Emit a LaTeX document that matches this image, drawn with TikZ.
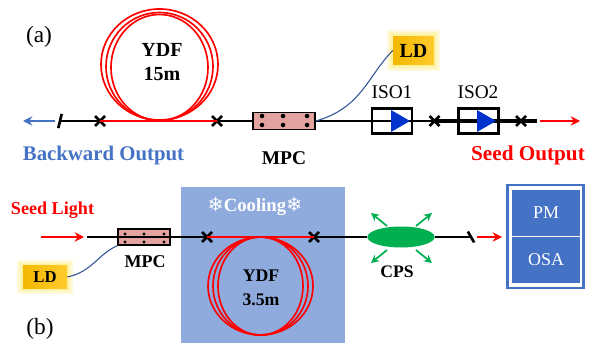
\documentclass[tikz,border=0pt]{standalone}
\usepackage{fontspec}
\setmainfont{Liberation Serif}
\newfontfamily\flakefont{DejaVu Sans}
\usetikzlibrary{arrows.meta, positioning, shapes.misc, shapes.geometric}
\definecolor{outblue}{HTML}{4472C4}
\definecolor{coolblue}{HTML}{8FAADC}
\definecolor{isoblue}{HTML}{0033CC}
\definecolor{mpcpink}{HTML}{E3A3A0}
\definecolor{cpsgreen}{HTML}{00B050}
\definecolor{pumpline}{HTML}{2F5597}
\definecolor{golda}{HTML}{F5B800}
\definecolor{goldb}{HTML}{FFCB2E}

\begin{document}
\begin{tikzpicture}[
    x=0.75pt, y=-0.75pt,
    lab/.style={inner sep=0pt, align=center, font=\fontsize{#1}{#1}\selectfont},
    blab/.style={inner sep=0pt, align=center, font=\fontsize{#1}{18}\selectfont\bfseries},
    fiber/.style={line width=2.2pt, black},
    gain/.style={line width=2.2pt, red},
    coil/.style={line width=1.25pt, red},
    splice/.style={cross out, draw=black, line width=2pt, minimum size=5.5pt, inner sep=0pt},
    cutmark/.style={fill=black, inner sep=0pt, minimum width=2pt, minimum height=#1},
    mpc/.style={draw=black, line width=1.2pt, fill=mpcpink, inner sep=0pt},
    mpcdot/.style={circle, fill=black, inner sep=0pt, minimum size=#1},
    isobox/.style={draw=black, line width=2pt, inner sep=0pt, minimum width=30pt, minimum height=19pt},
    isotri/.style={fill=isoblue},
    ld/.style={inner sep=0pt, left color=golda, right color=goldb},
    glow/.style={draw=yellow!80!orange, opacity=0.14, inner sep=0pt},
    pump/.style={line width=0.8pt, pumpline},
    beam/.style={line width=1.8pt, -{Stealth[length=7pt, width=7pt]}},
    leak/.style={line width=1.3pt, cpsgreen, -{Stealth[length=6pt, width=6pt]}},
    meter/.style={fill=outblue, text=white, inner sep=0pt, minimum width=51pt, minimum height=34.5pt,
                  font=\fontsize{13.5}{14}\selectfont}
  ]
  \useasboundingbox (0,0) rectangle (595,345);

  % (a)
  \node[lab=17.5] (taga) at (39,37) {(a)};
  \foreach \rx/\ry/\cy in {58.5/55.5/64.5, 53.5/54/66.5, 48.5/53/67.5} {
    \draw[coil] (159.5,\cy) ellipse [x radius=\rx, y radius=\ry];
  }
  \node[blab=15] (ydfa) at (162,62) {YDF\\15m};

  \node[cutmark=11pt, rotate=-14] (cuta) at (60,121) {};
  \node[splice] (xa1) at (100,121) {};
  \node[splice] (xa2) at (217,121) {};
  \node[mpc, minimum width=46.5pt, minimum height=12.75pt] (mpca) at (284,121) {};
  \node[isobox] (iso1) at (392,121) {};
  \node[isobox] (iso2) at (478.5,121) {};
  \node[splice] (xa3) at (434.5,121) {};
  \node[splice] (xa4) at (521,121) {};
  \coordinate (enda) at (537,121);

  \draw[fiber] (cuta.center) -- (xa1.center);
  \draw[gain] (xa1.center) -- (xa2.center);
  \draw[fiber] (xa2.center) -- (mpca.west);
  \draw[fiber] (mpca.east) -- (iso1.west) -- (iso1.east) -- (xa3.center);
  \draw[fiber, line width=2.6pt] (xa3.center) -- (iso2.west) -- (iso2.east) -- (xa4.center) -- (enda);
  \foreach \x in {262,283,307} {
    \foreach \y in {116,125} {
      \node[mpcdot=3.4pt] at (\x,\y) {};
    }
  }
  \fill[isotri] (391,110) -- (410,121) -- (391,132) -- cycle;
  \fill[isotri] (477,110) -- (496,121) -- (477,132) -- cycle;
  \node[lab=14.5] (isol1) at (392,92) {ISO1};
  \node[lab=14.5] (isol2) at (478,92) {ISO2};

  \foreach \w in {9,6,3} {
    \node[glow, line width=\w pt, minimum width=30.5pt, minimum height=21.5pt] at (413.5,50.5) {};
  }
  \node[ld, minimum width=30.5pt, minimum height=21.5pt, blab=15] (lda) at (413.5,50.5) {LD};
  \draw[pump] (lda.west) .. controls (368,75) and (362,108) .. (mpca.east);

  \coordinate (bsa) at (55,121);
  \coordinate (bea) at (23,121);
  \draw[beam, outblue] (bsa) -- (bea);
  \coordinate (rsa) at (540,121);
  \coordinate (rea) at (580,121);
  \draw[beam, red] (rsa) -- (rea);
  \node[blab=15.6, text=outblue] (back) at (103.5,155) {Backward Output};
  \node[blab=15.9, text=red] (seedo) at (528,155) {Seed Output};
  \node[blab=14.6] (mpcla) at (284,158) {MPC};

  % (b)
  \fill[coolblue] (181,187) rectangle (345,343);
  \node[lab=17.5] (tagb) at (40,329) {(b)};
  \node[blab=13.6, text=red] (seedl) at (52.5,210) {Seed Light};
  \node[blab=14, text=white] (cool) at (255,207)
    {{\flakefont\fontsize{14.5}{14}\selectfont ❄}Cooling{\flakefont\fontsize{14.5}{14}\selectfont ❄}};
  \foreach \rx in {52.5,47.5,42.5} {
    \draw[coil] (260.5,286) ellipse [x radius=\rx, y radius=49];
  }
  \node[blab=13.3] (ydfb) at (261,288) {YDF\\3.5m};

  \coordinate (startb) at (87,237);
  \node[mpc, minimum width=39pt, minimum height=12pt] (mpcb) at (144,237) {};
  \node[splice] (xb1) at (207,237) {};
  \node[splice] (xb2) at (314,237) {};
  \node[ellipse, fill=cpsgreen, inner sep=0pt, minimum width=50.5pt, minimum height=15.75pt] (cps) at (401,237) {};
  \node[cutmark=9.5pt, rotate=30] (cutb) at (471,237) {};

  \draw[fiber] (startb) -- (mpcb.west) -- (mpcb.east) -- (xb1.center);
  \draw[gain] (xb1.center) -- (xb2.center);
  \draw[fiber] (xb2.center) -- (cps);
  \draw[fiber] (cps) -- (cutb.center);
  \foreach \x in {125,144,164} {
    \foreach \y in {234,242} {
      \node[mpcdot=2.6pt] at (\x,\y) {};
    }
  }
  \node[blab=13.5] (mpclb) at (145,262) {MPC};

  \foreach \w in {9,6,3} {
    \node[glow, line width=\w pt, minimum width=33pt, minimum height=17pt] at (45,277) {};
  }
  \node[ld, minimum width=33pt, minimum height=17pt, blab=12.5] (ldb) at (45,277) {LD};
  \draw[pump] (ldb.east) .. controls (92,272) and (98,254) .. (mpcb.south west);

  \coordinate (rsb) at (41,237);
  \coordinate (reb) at (84,237);
  \draw[beam, red] (rsb) -- (reb);
  \coordinate (rsc) at (477,237);
  \coordinate (rec) at (502,237);
  \draw[beam, red] (rsc) -- (rec);

  \foreach \i/\a/\b/\c/\d in {1/387/226/371/213, 2/416/226/432/213, 3/387/250/371/263, 4/416/250/432/263} {
    \coordinate (ls\i) at (\a,\b);
    \coordinate (le\i) at (\c,\d);
    \draw[leak] (ls\i) -- (le\i);
  }
  \node[blab=13.2] (cpsl) at (397,272) {CPS};

  \node[draw=outblue, line width=1.8pt, inner sep=0pt, minimum width=57pt, minimum height=77.5pt] (inst) at (545.5,236.5) {};
  \node[meter] (pm) at (546,213) {PM};
  \node[meter] (osa) at (546,260) {OSA};
\end{tikzpicture}
\end{document}
